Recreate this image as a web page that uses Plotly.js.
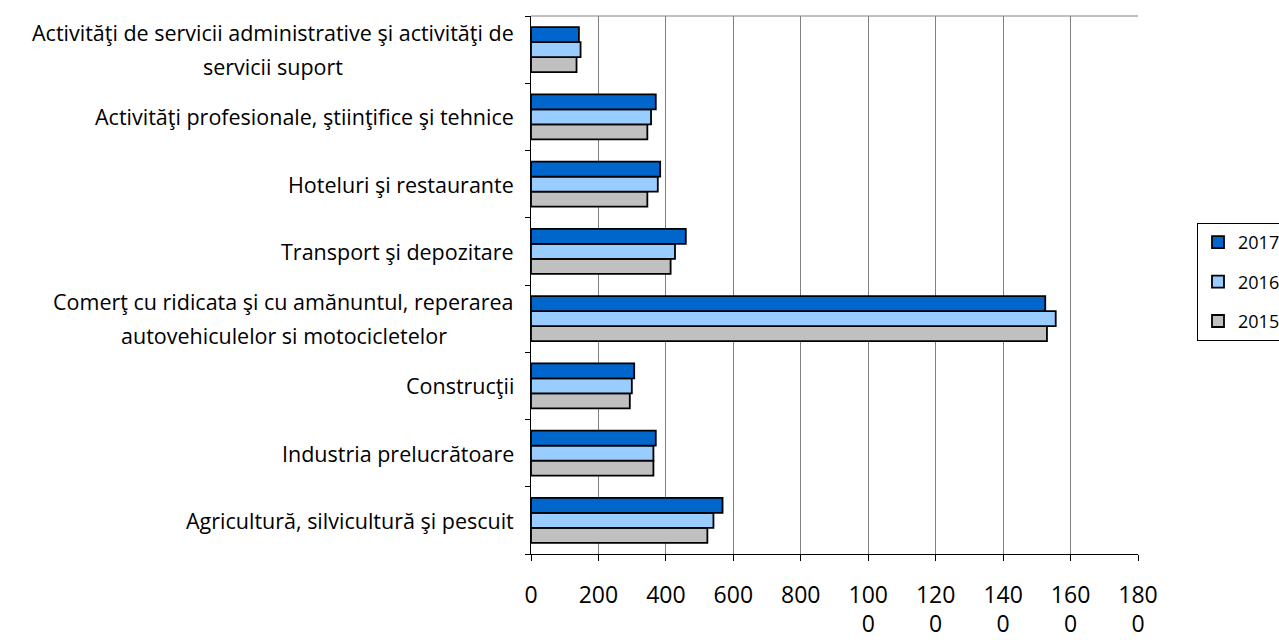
<!DOCTYPE html>
<html>
<head>
<meta charset="utf-8">
<script src="https://cdn.plot.ly/plotly-3.0.1.min.js"></script>
<style>
html,body{margin:0;padding:0;background:#fff;}
#chart{width:1279px;height:640px;}
</style>
</head>
<body>
<div id="chart"></div>
<script>
// Categories, bottom to top (as drawn from the x axis upward)
const categories = [
  "Agricultură, silvicultură şi pescuit",
  "Industria prelucrătoare",
  "Construcţii",
  "Comerţ cu ridicata şi cu amănuntul, reperarea\nautovehiculelor si motocicletelor",
  "Transport şi depozitare",
  "Hoteluri şi restaurante",
  "Activităţi profesionale, ştiinţifice şi tehnice",
  "Activităţi de servicii administrative şi activităţi de\nservicii suport"
];
const values2017 = [568, 370, 306, 1525, 459, 383, 370, 142];
const values2016 = [541, 363, 299, 1556, 427, 376, 356, 147];
const values2015 = [523, 363, 293, 1530, 414, 345, 345, 135];
const tickValues = [0, 200, 400, 600, 800, 1000, 1200, 1400, 1600, 1800];
const tickLine1 = ["0", "200", "400", "600", "800", "100", "120", "140", "160", "180"];
const tickLine2 = ["", "", "", "", "", "0", "0", "0", "0", "0"];

const FONT = "'Open Sans', sans-serif";
const catKeys = categories.map(c => c.replace("\n", " "));

function barTrace(name, vals, color, rank) {
  return {
    type: "bar", orientation: "h", name: name,
    y: catKeys, x: vals,
    marker: {color: color, line: {color: "#000", width: 1.8}},
    legendgroup: name, legendrank: rank,
    hoverinfo: "x+name"
  };
}

const data = [
  barTrace("2015", values2015, "#C0C0C0", 3),
  barTrace("2016", values2016, "#99CCFF", 2),
  barTrace("2017", values2017, "#0066CC", 1),
  // empty helper trace so the second tick-label row axis is drawn
  {type: "scatter", mode: "markers", x: [], y: [], xaxis: "x2", yaxis: "y",
   showlegend: false, hoverinfo: "skip"}
];

// category labels, centered multi-line like the original
const LABEL_SIZE = 21.5;
const canvas = document.createElement("canvas");
const ctx = canvas.getContext("2d");
ctx.font = LABEL_SIZE + "px 'Open Sans'";
const annotations = [];
categories.forEach((c, i) => {
  const lines = c.split("\n");
  const widths = lines.map(l => ctx.measureText(l).width);
  const maxW = Math.max(...widths);
  const n = lines.length;
  lines.forEach((l, j) => {
    const yshift = ((n - 1) / 2 - j) * 34;
    annotations.push({
      xref: "paper", yref: "y", x: 0, y: catKeys[i],
      xanchor: "right", yanchor: "middle",
      xshift: -15 - (maxW - widths[j]) / 2,
      yshift: yshift,
      text: l, showarrow: false,
      font: {family: FONT, size: LABEL_SIZE, color: "#000"}
    });
  });
});

const TICK_SIZE = 23;
const layout = {
  width: 1279, height: 640,
  margin: {l: 531, r: 141, t: 16, b: 86, autoexpand: false},
  paper_bgcolor: "#fff", plot_bgcolor: "#fff",
  barmode: "group", bargap: 0.33, bargroupgap: 0,
  font: {family: FONT, size: 20, color: "#000"},
  showlegend: true,
  legend: {
    xref: "container", yref: "container",
    x: 1197 / 1279, y: 1 - 223 / 640, xanchor: "left", yanchor: "top",
    traceorder: "grouped", tracegroupgap: 13,
    bordercolor: "#000", borderwidth: 1, bgcolor: "#fff",
    font: {family: FONT, size: 18, color: "#000"}
  },
  xaxis: {
    range: [0, 1800], tickvals: tickValues, ticktext: tickLine1,
    showgrid: true, gridcolor: "#808080", gridwidth: 1,
    zeroline: false, showline: true, linecolor: "#000", linewidth: 1,
    ticks: "outside", ticklen: 6, tickcolor: "#000",
    ticklabelstandoff: 14,
    tickfont: {family: FONT, size: TICK_SIZE, color: "#000"},
    fixedrange: true
  },
  xaxis2: {
    overlaying: "x", anchor: "y", side: "bottom",
    range: [0, 1800], tickvals: tickValues, ticktext: tickLine2,
    showgrid: false, zeroline: false, showline: false, ticks: "",
    ticklabelstandoff: 54,
    tickfont: {family: FONT, size: TICK_SIZE, color: "#000"},
    fixedrange: true
  },
  yaxis: {
    type: "category", categoryorder: "array", categoryarray: catKeys,
    range: [-0.5, 7.5],
    showticklabels: false, tickson: "boundaries",
    ticks: "outside", ticklen: 5, tickcolor: "#000",
    showgrid: false, zeroline: false,
    showline: true, linecolor: "#000", linewidth: 1,
    fixedrange: true
  },
  shapes: [
    {type: "line", xref: "paper", yref: "paper", x0: 0, x1: 1, y0: 1, y1: 1,
     line: {color: "#808080", width: 1}}
  ],
  annotations: annotations
};

Plotly.newPlot("chart", data, layout, {displayModeBar: false, staticPlot: true});
</script>
</body>
</html>
